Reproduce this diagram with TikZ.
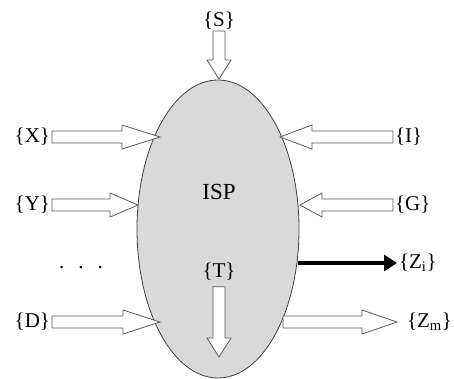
\documentclass[tikz,border=0pt]{standalone}
\usepackage{fontspec}
\setmainfont{Liberation Serif}
\usetikzlibrary{shapes.geometric,calc,arrows.meta}

\tikzset{
  blob/.style={ellipse, draw=black!75, fill=black!15, line width=0.8pt,
    minimum width=162pt, minimum height=298pt, inner sep=0pt},
  hollow/.style={draw=black!65, fill=white, line width=0.8pt, line join=miter},
  solidarrow/.style={line width=4pt, -{Triangle[length=13pt,width=16pt]}},
  lbl/.style={inner sep=0pt, outer sep=2pt, font=\fontsize{21}{23}\selectfont},
}

% hollow block arrow: [head length]{from}{to}
\newcommand{\hollowarrow}[3][30]{%
  \coordinate (neck) at ($(#3)!#1pt!(#2)$);
  \filldraw[hollow] ($(#2)!6pt!90:(#3)$) -- ($(neck)!6pt!90:(#3)$)
    -- ($(neck)!12pt!90:(#3)$) -- (#3) -- ($(neck)!12pt!-90:(#3)$)
    -- ($(neck)!6pt!-90:(#3)$) -- ($(#2)!6pt!-90:(#3)$) -- cycle;}

\begin{document}
\begin{tikzpicture}[x=1pt,y=-1pt]
  \useasboundingbox (0,0) rectangle (454,378);

  % system
  \node[blob] (isp) at (218,229) {};
  \node[lbl, font=\fontsize{23}{25}\selectfont] (name) at (219,192) {ISP};

  % labels
  \node[lbl, anchor=south] (ls) at (219,31) {\{S\}};
  \node[lbl, anchor=east] (lx) at (52,137) {\{X\}};
  \node[lbl, anchor=east] (ly) at (52,205) {\{Y\}};
  \node[lbl, anchor=east] (ld) at (52,322) {\{D\}};
  \node[lbl, anchor=west] (li) at (393,137) {\{I\}};
  \node[lbl, anchor=west] (lg) at (393,205) {\{G\}};
  \node[lbl, anchor=west] (lzi) at (397,263) {\{Z\textsubscript{i}\}};
  \node[lbl, anchor=west, outer sep=10pt] (lzm) at (397,322) {\{Z\textsubscript{m}\}};
  \node[lbl, outer sep=0pt] (lt) at (219,272) {\{T\}};
  \node[lbl, anchor=base] (ldots) at (81,268) {.\hspace{14pt}.\hspace{14pt}.};

  % points on the border
  \coordinate (sin) at (219,79);
  \coordinate (xin) at (160,137);
  \coordinate (yin) at (138,205);
  \coordinate (din) at (160,322);
  \coordinate (iin) at (280,137);
  \coordinate (gin) at (300,205);
  \coordinate (ziout) at (298,263);
  \coordinate (zmout) at (283,322);
  \coordinate (tout) at (219,357);

  % flows
  \hollowarrow[19]{ls.south}{sin}
  \hollowarrow[38]{lx.east}{xin}
  \hollowarrow[28]{ly.east}{yin}
  \hollowarrow[37]{ld.east}{din}
  \hollowarrow[32]{li.west}{iin}
  \hollowarrow[22]{lg.west}{gin}
  \hollowarrow[35]{zmout}{lzm.west}
  \hollowarrow[19]{$(lt.south)+(0,6)$}{tout}
  \draw[solidarrow] (ziout) -- (lzi.west);
\end{tikzpicture}
\end{document}
